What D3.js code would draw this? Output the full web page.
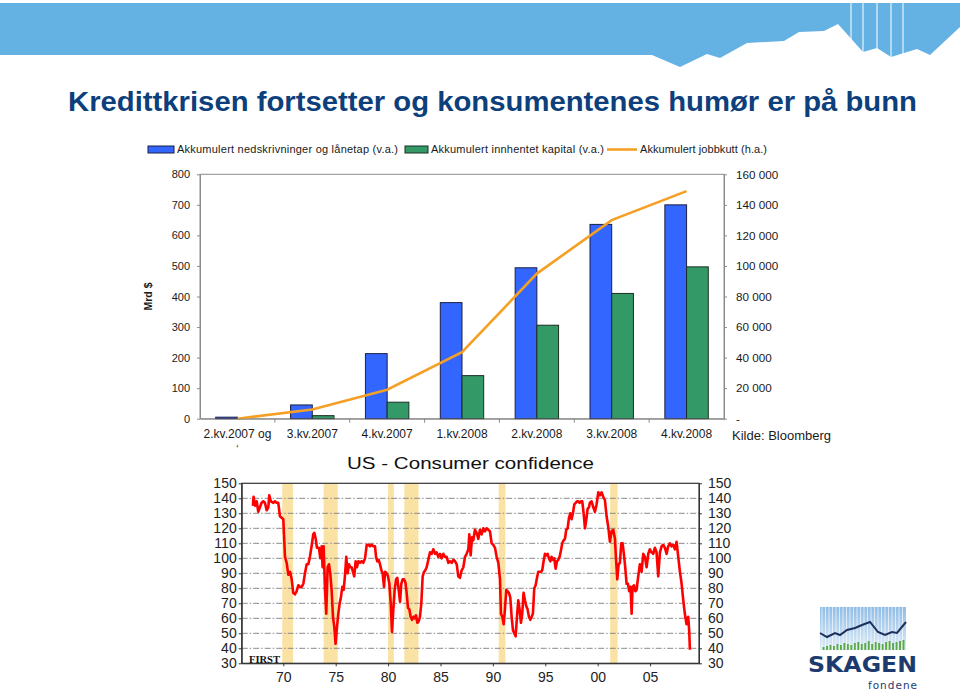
<!DOCTYPE html>
<html><head><meta charset="utf-8">
<script src="https://cdn.jsdelivr.net/npm/d3@7"></script>
<style>
body{margin:0;background:#fff}
svg{display:block;font-family:"Liberation Sans",Arial,Helvetica,sans-serif}
</style>
</head><body>
<svg id="c" width="960" height="690"></svg>
<script>
// ---------- DATA ----------
const quarters = ["2.kv.2007 og","3.kv.2007","4.kv.2007","1.kv.2008","2.kv.2008","3.kv.2008","4.kv.2008"];
const writedowns = [5, 45, 213, 380, 494, 636, 700];          // Mrd $ (v.a.)
const capitalRaised = [0, 10, 54, 141, 306, 410, 497];         // Mrd $ (v.a.)
const jobCuts = [0, 6000, 19000, 43500, 95000, 130000, 149000]; // (h.a.)
const leftTicks = [0,100,200,300,400,500,600,700,800];
const rightTicks = [0,20000,40000,60000,80000,100000,120000,140000,160000];
const legendLabels = ["Akkumulert nedskrivninger og lånetap (v.a.)","Akkumulert innhentet kapital (v.a.)","Akkumulert jobbkutt (h.a.)"];

const ccTicks = [30,40,50,60,70,80,90,100,110,120,130,140,150];
const ccYearTicks = [1970,1975,1980,1985,1990,1995,2000,2005];
const recessions = [[1969.9,1970.92],[1973.85,1975.2],[1980.0,1980.55],[1981.55,1982.9],[1990.55,1991.2],[2001.2,2001.9]];
const confidence = [
[1967.10,135],[1967.16,141],[1967.30,135],[1967.46,138],[1967.61,131],[1967.77,134],[1967.93,137],[1968.09,138],
[1968.25,137],[1968.41,132],[1968.57,134],[1968.66,142],[1968.82,138],[1969.05,137],[1969.20,138],[1969.36,137],
[1969.52,137],[1969.68,128],[1969.84,127],[1970.00,126],[1970.16,101],[1970.32,97],[1970.48,89],[1970.64,91],
[1970.80,86],[1970.95,77],[1971.11,76],[1971.27,78],[1971.43,82],[1971.59,81],[1971.75,81],[1971.91,83],
[1972.07,90],[1972.23,96],[1972.39,96],[1972.54,101],[1972.70,108],[1972.86,116],[1972.96,117],[1973.09,113],
[1973.21,107],[1973.40,107],[1973.53,100],[1973.66,108],[1973.75,94],[1973.85,108],[1973.98,79],[1974.10,63],
[1974.23,94],[1974.36,96],[1974.48,90],[1974.61,79],[1974.74,61],[1974.87,54],[1974.99,43],[1975.12,54],
[1975.25,63],[1975.38,70],[1975.50,74],[1975.63,81],[1975.76,79],[1975.88,88],[1976.01,101],[1976.14,90],
[1976.27,96],[1976.39,94],[1976.52,94],[1976.65,91],[1976.77,88],[1976.90,98],[1977.03,94],[1977.16,98],
[1977.32,97],[1977.47,98],[1977.63,97],[1977.80,100],[1977.96,109],[1978.12,109],[1978.28,108],[1978.43,109],
[1978.59,108],[1978.75,108],[1978.85,101],[1978.97,98],[1979.10,99],[1979.23,96],[1979.36,92],[1979.48,90],
[1979.61,81],[1979.71,91],[1979.86,90],[1979.99,88],[1980.12,83],[1980.25,70],[1980.37,51],[1980.50,66],
[1980.63,79],[1980.76,86],[1980.88,87],[1981.01,79],[1981.14,71],[1981.26,83],[1981.39,86],[1981.52,86],
[1981.65,84],[1981.77,77],[1981.90,67],[1982.03,66],[1982.15,61],[1982.28,59],[1982.41,61],[1982.54,60],
[1982.66,62],[1982.79,57],[1982.92,58],[1983.04,61],[1983.17,70],[1983.30,88],[1983.43,91],[1983.55,92],
[1983.68,94],[1983.84,99],[1984.00,104],[1984.16,103],[1984.32,106],[1984.48,103],[1984.63,104],[1984.79,101],
[1984.95,103],[1985.11,100],[1985.27,103],[1985.43,101],[1985.59,101],[1985.75,97],[1985.91,98],[1986.07,97],
[1986.23,99],[1986.39,98],[1986.55,96],[1986.70,88],[1986.86,87],[1987.02,92],[1987.18,94],[1987.34,101],
[1987.50,103],[1987.66,106],[1987.75,116],[1987.88,102],[1988.01,114],[1988.13,112],[1988.29,119],[1988.45,117],
[1988.61,113],[1988.77,119],[1988.93,116],[1989.09,120],[1989.24,118],[1989.40,120],[1989.56,119],[1989.72,118],
[1989.88,110],[1990.04,109],[1990.20,107],[1990.36,101],[1990.52,97],[1990.68,86],[1990.77,63],[1990.90,61],
[1991.03,56],[1991.15,66],[1991.28,79],[1991.41,78],[1991.53,77],[1991.66,74],[1991.79,61],[1991.92,52],
[1992.04,50],[1992.17,48],[1992.30,61],[1992.42,72],[1992.55,66],[1992.68,57],[1992.80,63],[1992.93,77],
[1993.06,72],[1993.19,68],[1993.31,66],[1993.44,61],[1993.57,59],[1993.70,61],[1993.82,63],[1993.95,80],
[1994.08,82],[1994.21,87],[1994.33,91],[1994.46,91],[1994.59,91],[1994.71,92],[1994.84,98],[1994.97,103],
[1995.10,102],[1995.22,103],[1995.35,100],[1995.48,98],[1995.60,101],[1995.73,99],[1995.86,100],[1995.99,93],
[1996.11,98],[1996.24,99],[1996.37,101],[1996.49,105],[1996.62,110],[1996.75,112],[1996.88,113],[1997.00,119],
[1997.13,120],[1997.26,127],[1997.39,130],[1997.51,126],[1997.64,130],[1997.77,136],[1997.90,137],[1998.02,138],
[1998.15,138],[1998.28,137],[1998.40,138],[1998.53,138],[1998.66,130],[1998.79,120],[1998.92,126],[1999.04,133],
[1999.17,134],[1999.26,137],[1999.42,138],[1999.58,134],[1999.74,131],[1999.90,136],[2000.06,144],[2000.21,142],
[2000.37,144],[2000.53,141],[2000.69,139],[2000.85,128],[2001.01,121],[2001.17,111],[2001.33,118],[2001.49,119],
[2001.65,113],[2001.74,101],[2001.87,86],[2002.00,96],[2002.12,97],[2002.25,110],[2002.38,110],[2002.50,103],
[2002.63,94],[2002.76,83],[2002.89,83],[2003.01,78],[2003.14,81],[2003.24,63],[2003.33,81],[2003.46,82],
[2003.59,78],[2003.71,79],[2003.87,88],[2004.03,96],[2004.19,91],[2004.35,103],[2004.51,101],[2004.67,94],
[2004.83,103],[2004.98,106],[2005.14,104],[2005.30,103],[2005.46,107],[2005.62,104],[2005.78,88],[2005.94,104],
[2006.10,108],[2006.26,109],[2006.42,107],[2006.58,103],[2006.73,108],[2006.89,110],[2007.05,108],[2007.21,109],
[2007.37,106],[2007.53,111],[2007.69,101],[2007.85,91],[2008.01,83],[2008.17,72],[2008.32,63],[2008.48,56],
[2008.64,61],[2008.74,51],[2008.80,39]
];

// decorative banner / logo data
const bannerEdge = [[0,3],[960,3],[960,27],[930,55],[917,49],[891,57],[877,48],[863,52],[838,24],[824,31],[799,32],[784,41],[747,43],[720,58],[707,54],[680,67],[652,55],[0,55]];
const logoLine = [[820,633],[827,637],[835,633],[840,635],[847,630],[855,628],[862,625],[870,622],[878,632],[885,635],[892,632],[897,633],[906,622]];
const logoBars = [3,4,5,4,6,5,7,6,5,7,8,6,7,9,6,8,7,6,8,9,7,8,9,10];

// ---------- DRAW ----------
(function draw(){
const svg = d3.select("#c");
const txt = "#1a1a1a";

// banner
svg.append("path").attr("d", d3.line()(bannerEdge) + "Z").attr("fill", "#64b2e4");
[851,863,877,891,903].forEach(x => svg.append("line").attr("x1",x).attr("x2",x).attr("y1",3).attr("y2",62).attr("stroke","#fff").attr("stroke-width",1));

// title
svg.append("text").attr("x",68).attr("y",111).attr("font-size",28).attr("font-weight","bold")
  .attr("fill","#0d3f7c").attr("textLength",849).attr("lengthAdjust","spacingAndGlyphs")
  .text("Kredittkrisen fortsetter og konsumentenes humør er på bunn");

// ===== Top chart =====
const xTop = d3.scaleBand().domain(quarters).range([200,724]);
const yL = d3.scaleLinear().domain([0,800]).range([418.7,174.3]);
const yR = d3.scaleLinear().domain([0,160000]).range([418.7,174.3]);
const bw = xTop.bandwidth();
const blue = "#3366ff", green = "#339966", orange = "#f5a024";

const gTop = svg.append("g");
gTop.append("rect").attr("x",xTop.range()[0]).attr("y",yL(800)).attr("width",xTop.range()[1]-xTop.range()[0])
  .attr("height",yL(0)-yL(800)).attr("fill","none").attr("stroke","#8c8c8c").attr("stroke-width",1);

gTop.selectAll(".bw").data(writedowns).join("rect")
  .attr("x",(d,i)=>xTop(quarters[i])+bw*0.21).attr("y",d=>yL(d))
  .attr("width",bw*0.29).attr("height",d=>yL(0)-yL(d))
  .attr("fill",blue).attr("stroke","#1b1f44").attr("stroke-width",1);
gTop.selectAll(".bg").data(capitalRaised).join("rect")
  .attr("x",(d,i)=>xTop(quarters[i])+bw*0.5).attr("y",d=>yL(d))
  .attr("width",bw*0.29).attr("height",d=>yL(0)-yL(d))
  .attr("fill",green).attr("stroke","#1b2f22").attr("stroke-width",1);

gTop.append("path").datum(jobCuts)
  .attr("d", d3.line().x((d,i)=>xTop(quarters[i])+bw/2).y(d=>yR(d)))
  .attr("fill","none").attr("stroke",orange).attr("stroke-width",2.6);

const styleAxis = (g, fs) => {
  g.select(".domain").attr("stroke","#8c8c8c");
  g.selectAll(".tick line").attr("stroke","#8c8c8c");
  g.selectAll("text").attr("font-size",fs).attr("fill",txt).attr("font-family","'Liberation Sans',Arial,sans-serif");
};
gTop.append("g").attr("transform",`translate(${xTop.range()[0]},0)`)
  .call(d3.axisLeft(yL).tickValues(leftTicks).tickSize(3).tickPadding(7).tickSizeOuter(0))
  .call(g=>styleAxis(g,11));
const fmtR = d => d === 0 ? "-" : d3.format(",")(d).replace(/,/g," ");
gTop.append("g").attr("transform",`translate(${xTop.range()[1]},0)`)
  .call(d3.axisRight(yR).tickValues(rightTicks).tickFormat(fmtR).tickSize(3).tickPadding(9).tickSizeOuter(0))
  .call(g=>styleAxis(g,11.7));
gTop.append("g").attr("transform",`translate(0,${yL(0)})`)
  .call(d3.axisBottom(xTop).tickSize(0).tickPadding(11))
  .call(g=>styleAxis(g,12));
gTop.selectAll(".sep").data(quarters.slice(1)).join("line")
  .attr("x1",q=>xTop(q)).attr("x2",q=>xTop(q)).attr("y1",yL(0)).attr("y2",yL(0)+4).attr("stroke","#8c8c8c");
gTop.append("text").attr("x",xTop(quarters[0])+bw/2).attr("y",453).attr("text-anchor","middle").attr("font-size",10).attr("fill",txt).text("ʻ");

gTop.append("text").attr("transform",`translate(152,${(yL(0)+yL(800))/2}) rotate(-90)`).attr("text-anchor","middle")
  .attr("font-size",10.5).attr("font-weight","bold").attr("fill",txt).text("Mrd $");

gTop.append("text").attr("x",732).attr("y",440).attr("font-size",13).attr("fill",txt).text("Kilde: Bloomberg");

// legend
const leg = svg.append("g").attr("font-size",11).attr("fill",txt);
leg.append("rect").attr("x",148).attr("y",146).attr("width",26).attr("height",7).attr("fill",blue).attr("stroke","#1b1f44");
leg.append("text").attr("x",177).attr("y",153).attr("fill",txt).attr("textLength",221).text(legendLabels[0]);
leg.append("rect").attr("x",405).attr("y",146).attr("width",23).attr("height",7).attr("fill",green).attr("stroke","#1b2f22");
leg.append("text").attr("x",431).attr("y",153).attr("fill",txt).attr("textLength",173).text(legendLabels[1]);
leg.append("line").attr("x1",607).attr("x2",637).attr("y1",149.5).attr("y2",149.5).attr("stroke",orange).attr("stroke-width",2.6);
leg.append("text").attr("x",640).attr("y",153).attr("fill",txt).attr("textLength",127).text(legendLabels[2]);

// ===== Bottom chart =====
const xCC = d3.scaleLinear().domain([1966.03,2009.67]).range([241.7,699]);
const yCC = d3.scaleLinear().domain([30,150]).range([663.3,483.3]);
const bot = svg.append("g");

bot.selectAll(".rec").data(recessions).join("rect")
  .attr("x",d=>xCC(d[0])).attr("width",d=>xCC(d[1])-xCC(d[0]))
  .attr("y",yCC(150)).attr("height",yCC(30)-yCC(150)).attr("fill","#fae2a4");

bot.selectAll(".grid").data(ccTicks.filter(v=>v>30 && v<150)).join("line")
  .attr("x1",xCC.range()[0]).attr("x2",xCC.range()[1]).attr("y1",d=>yCC(d)).attr("y2",d=>yCC(d))
  .attr("stroke","#8a8a8a").attr("stroke-width",1).attr("stroke-dasharray","6,2,1.5,2");

bot.append("path").datum(confidence)
  .attr("d", d3.line().x(d=>xCC(d[0])).y(d=>yCC(d[1])))
  .attr("fill","none").attr("stroke","#ff0000").attr("stroke-width",2.6).attr("stroke-linejoin","round");

bot.append("rect").attr("x",xCC.range()[0]).attr("y",yCC(150)).attr("width",xCC.range()[1]-xCC.range()[0])
  .attr("height",yCC(30)-yCC(150)).attr("fill","none").attr("stroke","#333").attr("stroke-width",1.2);

const styleAxis2 = g => {
  g.select(".domain").attr("stroke","#333");
  g.selectAll(".tick line").attr("stroke","#333");
  g.selectAll("text").attr("font-size",14).attr("fill","#222").attr("font-family","'Liberation Sans',Arial,sans-serif");
};
bot.append("g").attr("transform",`translate(${xCC.range()[0]},0)`)
  .call(d3.axisLeft(yCC).tickValues(ccTicks).tickSize(3).tickPadding(2).tickSizeOuter(0)).call(styleAxis2);
bot.append("g").attr("transform",`translate(${xCC.range()[1]},0)`)
  .call(d3.axisRight(yCC).tickValues(ccTicks).tickSize(3).tickPadding(6).tickSizeOuter(0)).call(styleAxis2);
bot.append("g").attr("transform",`translate(0,${yCC(30)})`)
  .call(d3.axisBottom(xCC).tickValues(ccYearTicks).tickFormat(d=>String(d).slice(2)).tickSize(3).tickPadding(6).tickSizeOuter(0)).call(styleAxis2);

bot.append("text").attr("x",347).attr("y",469).attr("font-size",17).attr("fill","#111")
  .attr("textLength",247).attr("lengthAdjust","spacingAndGlyphs").text("US - Consumer confidence");
bot.append("text").attr("x",249).attr("y",663).attr("font-size",11).attr("font-weight","bold")
  .attr("font-family","'Liberation Serif','DejaVu Serif',serif").attr("fill","#111")
  .attr("textLength",31).attr("lengthAdjust","spacingAndGlyphs").text("FIRST");

// ===== Logo =====
const logo = svg.append("g");
const grad = svg.append("defs").append("linearGradient").attr("id","lg").attr("x1",0).attr("x2",0).attr("y1",0).attr("y2",1);
grad.append("stop").attr("offset","0").attr("stop-color","#8fbde6");
grad.append("stop").attr("offset","1").attr("stop-color","#dfecf7");
logo.append("rect").attr("x",820).attr("y",607).attr("width",86).attr("height",43).attr("fill","url(#lg)");
d3.range(822,906,3.5).forEach(x=>logo.append("line").attr("x1",x).attr("x2",x).attr("y1",607).attr("y2",650).attr("stroke","#fff").attr("stroke-width",0.8).attr("opacity",0.8));
const lbx = d3.scaleBand().domain(d3.range(logoBars.length)).range([821,906]).padding(0.45);
logo.selectAll(".lb").data(logoBars).join("rect")
  .attr("x",(d,i)=>lbx(i)).attr("width",lbx.bandwidth()).attr("y",d=>650-d).attr("height",d=>d).attr("fill","#5aaa48");
logo.append("path").attr("d",d3.line()(logoLine)).attr("fill","none").attr("stroke","#1e2f5e").attr("stroke-width",2);
logo.append("text").attr("x",808).attr("y",672).attr("font-size",21).attr("font-weight","bold").attr("fill","#1d3b6f")
  .attr("textLength",109).attr("lengthAdjust","spacingAndGlyphs").attr("font-family","'DejaVu Sans',Arial,sans-serif").text("SKAGEN");
logo.append("text").attr("x",868).attr("y",689).attr("font-size",10.5).attr("fill","#1d3b6f")
  .attr("textLength",49).attr("font-family","'DejaVu Sans',Arial,sans-serif").text("fondene");
})();
</script>
</body></html>
